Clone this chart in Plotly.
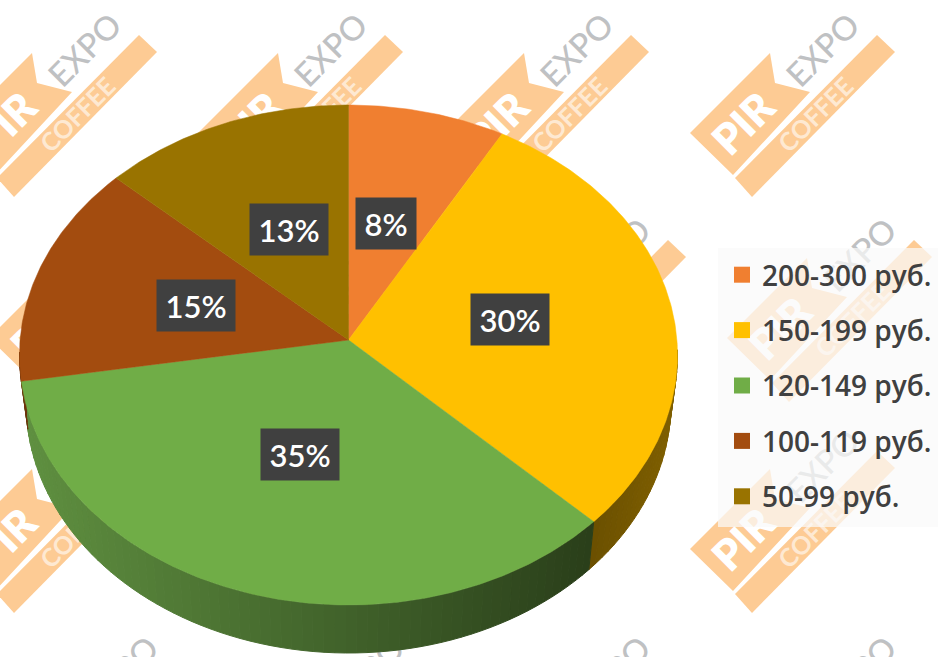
import math
import plotly.graph_objects as go

# ---- data ----
categories = ["200-300 руб.", "150-199 руб.", "120-149 руб.", "100-119 руб.", "50-99 руб."]
shares = [8, 30, 35, 15, 13]
colors = ["#F07F30", "#FFC000", "#70AD47", "#A34C0F", "#997300"]
wall_left = ["#A85820", "#806000", "#5F9040", "#6E330A", "#665000"]
wall_right = ["#A85820", "#6A4F00", "#2A3F1A", "#6E330A", "#665000"]
label_nudge = [(-1, 0), (5, -4), (0, 0), (-1, 0), (3, 0)]

# ---- pie geometry on the pixel-sized axes ----
W, H = 938, 657
APEX = (348.5, 340)
RX, RY, RAY_Y = 329, 250, 240
CY = 355
DEPTH = 48
FLOOR_SCALE = 0.98


def rim(theta):
    """Rim point hit by the ray from the apex at clock angle theta (3D tilt)."""
    dx, dy = RX * math.sin(theta), -RAY_Y * math.cos(theta)
    oy = APEX[1] - CY
    a = (dx / RX) ** 2 + (dy / RY) ** 2
    b = 2 * oy * dy / RY ** 2
    c = (oy / RY) ** 2 - 1
    t = (-b + math.sqrt(b * b - 4 * a * c)) / (2 * a)
    return APEX[0] + t * dx, APEX[1] + t * dy


def floor(p):
    return APEX[0] + (p[0] - APEX[0]) * FLOOR_SCALE, p[1] + DEPTH


def mix(c1, c2, t):
    t = max(0.0, min(1.0, t))
    a = [int(c1[i:i + 2], 16) for i in (1, 3, 5)]
    b = [int(c2[i:i + 2], 16) for i in (1, 3, 5)]
    return "rgb(%d,%d,%d)" % tuple(round(p + (q - p) * t) for p, q in zip(a, b))


fig = go.Figure()
total = sum(shares)
edges = [0.0]
for s in shares:
    edges.append(edges[-1] + s / total * 2 * math.pi)

# side wall: thin strips, shaded from left to right
for i in range(len(shares)):
    n = max(2, int((edges[i + 1] - edges[i]) / 0.03))
    for k in range(n):
        a0 = edges[i] + (edges[i + 1] - edges[i]) * k / n
        a1 = edges[i] + (edges[i + 1] - edges[i]) * (k + 1) / n
        p0, p1 = rim(a0), rim(a1)
        if p0[1] < CY - 2 and p1[1] < CY - 2:
            continue
        q0, q1 = floor(p0), floor(p1)
        t = ((p0[0] + p1[0]) / 2 - 20) / 570
        if i == 1:
            t = 1 - ((p0[0] + p1[0]) / 2 - 590) / 90
        c = mix(wall_left[i], wall_right[i], t)
        fig.add_trace(go.Scatter(
            x=[p0[0], p1[0], q1[0], q0[0], p0[0]],
            y=[p0[1], p1[1], q1[1], q0[1], p0[1]],
            mode="lines", fill="toself", fillcolor=c,
            line=dict(color=c, width=1), showlegend=False, hoverinfo="skip"))

# top face
for i, cat in enumerate(categories):
    n = max(8, int((edges[i + 1] - edges[i]) / 0.01))
    arc = [rim(edges[i] + (edges[i + 1] - edges[i]) * k / n) for k in range(n + 1)]
    fig.add_trace(go.Scatter(
        x=[APEX[0]] + [p[0] for p in arc] + [APEX[0]],
        y=[APEX[1]] + [p[1] for p in arc] + [APEX[1]],
        mode="lines", fill="toself", fillcolor=colors[i],
        line=dict(color=colors[i], width=0.5), name=cat,
        showlegend=False, hoverinfo="skip"))

# legend entries
for cat, c in zip(categories, colors):
    fig.add_trace(go.Scatter(
        x=[None], y=[None], mode="markers", name=cat, legendgroup=cat,
        marker=dict(symbol="square", size=18, color=c)))

# percent labels
for i, s in enumerate(shares):
    mid = (edges[i] + edges[i + 1]) / 2
    fig.add_annotation(
        x=APEX[0] + 0.48 * RX * math.sin(mid) + label_nudge[i][0],
        y=APEX[1] - 0.48 * RY * math.cos(mid) + label_nudge[i][1],
        text=f"{s}%", showarrow=False, xref="x", yref="y",
        width=60 if s < 10 else 78, height=51, bgcolor="#404040", borderpad=0,
        font=dict(family="Lato, 'Open Sans', sans-serif", size=31, color="white", weight=600))

# watermark tiles
ORANGE = "#FDCB94"
GRAY = "#BFC1C3"
shapes = []


def tile(tx, ty):
    pir = [(-205, 81), (-125, 1), (-120, 31), (-85, 40), (-162, 123)]
    band = [(-160, 126), (-18, -17), (0, 0), (-143, 145)]
    for poly in (pir, band):
        path = "M" + " L".join(f"{tx + a},{ty + b}" for a, b in poly) + " Z"
        shapes.append(dict(type="path", path=path, fillcolor=ORANGE,
                           line=dict(width=0), layer="below"))
    for text, (ox, oy), size, color, weight, fam in (
        ("EXPO", (-73, -3), 33, GRAY, 500, "Lato"),
        ("PIR", (-153, 70), 42, "white", 800, "Lato"),
        ("COFFEE", (-80, 62), 25, "#FEE9D2", 700, "Lato"),
    ):
        if ty + oy - 30 > H:
            continue
        shapes.append(dict(
            type="rect", x0=tx + ox - 1, x1=tx + ox + 1, y0=ty + oy - 1, y1=ty + oy + 1,
            line=dict(width=0), fillcolor="rgba(0,0,0,0)", layer="below",
            label=dict(text=text, textangle=-45, textposition="middle center",
                       font=dict(size=size, color=color, family=fam, weight=weight))))


for ty, start in ((52, 895), (257, 932), (468, 895), (675, 932)):
    for k in range(4):
        tile(start - 246 * k, ty)

# translucent panel behind the legend
shapes.append(dict(type="rect", x0=718, x1=W, y0=248, y1=527,
                   fillcolor="rgba(250,250,250,0.72)", line=dict(width=0), layer="below"))

fig.update_layout(
    width=W, height=H,
    margin=dict(l=0, r=0, t=0, b=0),
    paper_bgcolor="white", plot_bgcolor="white",
    xaxis=dict(range=[0, W], visible=False, fixedrange=True),
    yaxis=dict(range=[H, 0], visible=False, fixedrange=True),
    shapes=shapes,
    showlegend=True,
    legend=dict(x=722 / W, xanchor="left", y=1 - 250 / H, yanchor="top",
                bgcolor="rgba(0,0,0,0)", tracegroupgap=16, itemclick=False,
                font=dict(family="'Open Sans', 'Noto Sans', sans-serif", size=28,
                          color="#404040", weight=600)),
)

fig.write_html("out.html", config={"displayModeBar": False},
               post_script="document.body.style.margin='0';")
